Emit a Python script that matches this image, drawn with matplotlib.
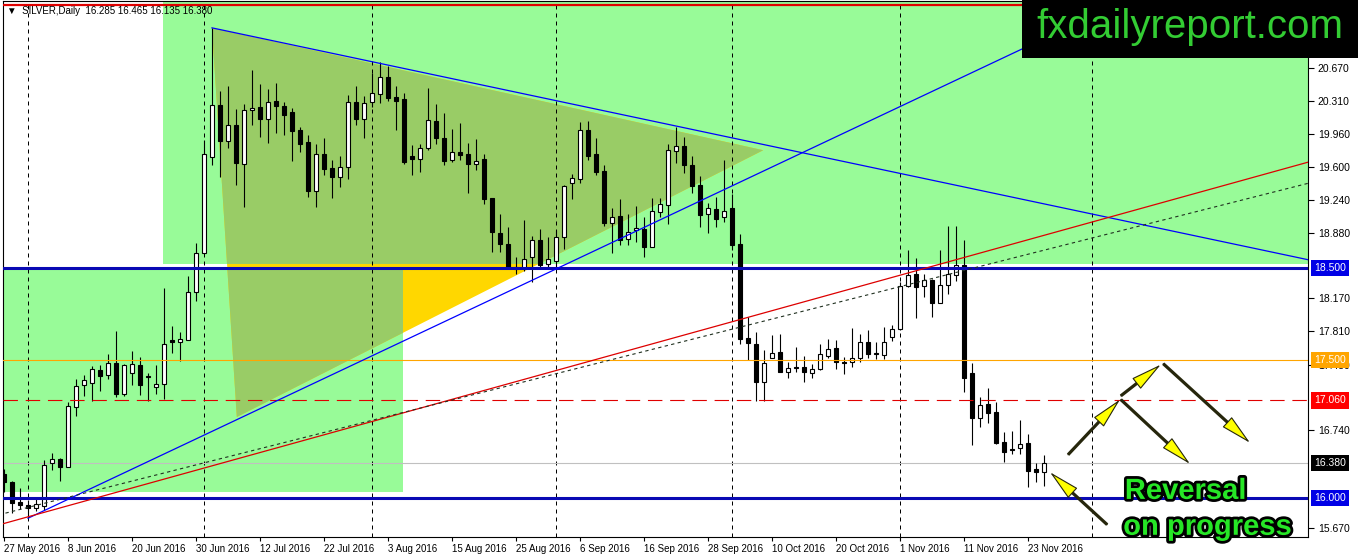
import numpy as np
import matplotlib
matplotlib.use('Agg')
import matplotlib.pyplot as plt
from matplotlib.patches import Rectangle, Polygon, FancyArrowPatch
import matplotlib.patheffects as pe

plt.rcParams['font.family'] = ['Liberation Sans', 'DejaVu Sans']

# daily SILVER candles, 27 May 2016 .. 25 Nov 2016 (bar index 0..130)
opens = [16.26, 16.17, 15.96, 15.92, 15.89, 15.91, 16.38, 16.42, 16.34, 16.99,
         17.23, 17.25, 17.39, 17.34, 17.47, 17.13, 17.36, 17.45, 17.33, 17.21,
         17.24, 17.72, 17.70, 17.72, 18.24, 18.66, 19.71, 20.27, 19.88, 20.05,
         19.63, 20.22, 20.25, 20.12, 20.32, 20.26, 20.20, 20.00, 19.87, 19.34,
         19.74, 19.59, 19.49, 19.60, 20.30, 20.12, 20.30, 20.39, 20.58, 20.36,
         20.34, 19.72, 19.68, 19.80, 20.10, 19.91, 19.67, 19.76, 19.74, 19.63,
         19.68, 19.26, 18.88, 18.76, 18.51, 18.50, 18.62, 18.80, 18.54, 18.58,
         18.84, 19.42, 19.47, 20.00, 19.74, 19.55, 18.99, 19.07, 18.82, 18.91,
         18.92, 18.73, 19.11, 19.18, 19.77, 19.83, 19.62, 19.40, 19.09, 19.14,
         19.05, 19.15, 18.76, 17.74, 17.67, 17.26, 17.52, 17.59, 17.37, 17.42,
         17.42, 17.36, 17.40, 17.54, 17.63, 17.48, 17.48, 17.52, 17.70, 17.57,
         17.55, 17.75, 17.84, 18.30, 18.43, 18.30, 18.37, 18.12, 18.32, 18.42,
         18.53, 17.36, 16.87, 17.02, 16.93, 16.61, 16.53, 16.54, 16.60, 16.32,
         16.285]
highs = [16.32, 16.19, 16.11, 15.98, 16.00, 16.41, 16.49, 16.43, 17.04, 17.29,
         17.34, 17.43, 17.45, 17.57, 17.82, 17.46, 17.60, 17.53, 17.36, 17.45,
         18.28, 17.87, 17.80, 18.41, 18.77, 19.89, 21.11, 20.42, 20.48, 20.23,
         20.28, 20.65, 20.50, 20.45, 20.51, 20.30, 20.24, 20.03, 19.95, 19.85,
         19.91, 19.67, 19.72, 20.38, 20.48, 20.37, 20.62, 20.74, 20.70, 20.48,
         20.40, 19.84, 19.85, 20.46, 20.28, 20.18, 20.01, 20.08, 19.86, 19.90,
         19.74, 19.26, 19.09, 18.95, 18.62, 19.02, 18.85, 18.92, 18.84, 18.91,
         19.40, 19.52, 20.09, 20.10, 19.91, 19.62, 19.15, 19.25, 19.09, 19.17,
         19.05, 19.26, 19.26, 19.85, 20.03, 19.92, 19.72, 19.50, 19.21, 19.27,
         19.67, 19.30, 18.87, 17.97, 17.80, 17.61, 17.77, 17.78, 17.48, 17.64,
         17.54, 17.46, 17.67, 17.73, 17.72, 17.53, 17.85, 17.78, 17.83, 17.70,
         17.86, 17.88, 18.35, 18.70, 18.61, 18.43, 18.38, 18.70, 18.96, 18.96,
         18.80, 17.47, 17.10, 17.20, 17.04, 16.72, 16.73, 16.85, 16.70, 16.38,
         16.465]
lows = [16.07, 15.84, 15.88, 15.78, 15.86, 15.87, 16.30, 16.18, 16.34, 16.89,
        17.11, 17.05, 17.16, 17.29, 17.10, 17.11, 17.23, 17.12, 17.05, 17.13,
        17.08, 17.58, 17.49, 17.72, 18.14, 18.65, 19.62, 19.49, 19.80, 19.40,
        19.16, 20.05, 19.92, 19.86, 19.97, 19.95, 19.66, 19.76, 19.27, 19.16,
        19.51, 19.26, 19.38, 19.47, 20.05, 19.91, 20.25, 20.29, 20.32, 20.00,
        19.63, 19.51, 19.54, 19.78, 19.85, 19.62, 19.65, 19.67, 19.32, 19.57,
        19.20, 18.67, 18.67, 18.50, 18.43, 18.47, 18.35, 18.51, 18.51, 18.51,
        18.71, 19.25, 19.42, 19.67, 19.51, 18.96, 18.66, 18.75, 18.75, 18.78,
        18.62, 18.73, 19.05, 18.98, 19.64, 19.53, 19.32, 18.95, 18.88, 18.95,
        19.00, 18.70, 17.67, 17.50, 17.05, 17.05, 17.52, 17.37, 17.30, 17.37,
        17.26, 17.30, 17.39, 17.52, 17.40, 17.35, 17.42, 17.48, 17.52, 17.51,
        17.51, 17.71, 17.83, 18.29, 17.96, 18.18, 17.97, 18.12, 18.22, 18.36,
        17.15, 16.58, 16.77, 16.82, 16.59, 16.39, 16.48, 16.48, 16.12, 16.17,
        16.135]
closes = [16.17, 15.95, 15.92, 15.89, 15.93, 16.36, 16.42, 16.34, 17.00, 17.22,
          17.28, 17.40, 17.33, 17.47, 17.13, 17.45, 17.46, 17.23, 17.31, 17.24,
          17.67, 17.70, 17.73, 18.24, 18.66, 19.74, 20.27, 19.88, 20.05, 19.64,
          20.22, 20.24, 20.12, 20.30, 20.26, 20.16, 19.99, 19.85, 19.34, 19.74,
          19.58, 19.49, 19.60, 20.30, 20.12, 20.29, 20.40, 20.58, 20.35, 20.32,
          19.65, 19.68, 19.80, 20.11, 19.91, 19.66, 19.76, 19.73, 19.63, 19.66,
          19.25, 18.89, 18.76, 18.50, 18.49, 18.60, 18.80, 18.53, 18.60, 18.84,
          19.39, 19.48, 20.00, 19.72, 19.54, 18.99, 19.05, 18.80, 18.89, 18.93,
          18.73, 19.12, 19.20, 19.78, 19.83, 19.62, 19.39, 19.08, 19.15, 19.03,
          19.12, 18.75, 17.73, 17.68, 17.26, 17.47, 17.58, 17.37, 17.41, 17.41,
          17.37, 17.40, 17.57, 17.62, 17.48, 17.47, 17.52, 17.70, 17.57, 17.56,
          17.70, 17.84, 18.30, 18.42, 18.29, 18.37, 18.12, 18.32, 18.43, 18.53,
          17.30, 16.87, 17.01, 16.92, 16.60, 16.50, 16.52, 16.59, 16.29, 16.28,
          16.38]

date_ticks = [0, 8, 16, 24, 32, 40, 48, 56, 64, 72, 80, 88, 96, 104, 112, 120, 128]
date_labels = ['27 May 2016', '8 Jun 2016', '20 Jun 2016', '30 Jun 2016', '12 Jul 2016',
               '22 Jul 2016', '3 Aug 2016', '15 Aug 2016', '25 Aug 2016', '6 Sep 2016',
               '16 Sep 2016', '28 Sep 2016', '10 Oct 2016', '20 Oct 2016', '1 Nov 2016',
               '11 Nov 2016', '23 Nov 2016']
month_starts = [3, 25, 46, 69, 91, 112, 136]
# scale ticks that are not hidden behind the price boxes
price_ticks = [15.67, 16.74, 17.45, 17.81, 18.17, 18.88, 19.24, 19.60, 19.96, 20.31, 20.67]

# horizontal levels
support_levels = [18.50, 16.00]
orange_level = 17.50
dashed_level = 17.06
bid_level = 16.38
top_level = 21.36

# zones (bar index, price)
upper_zone = [19.9, 18.54, 175.0, 22.0]
lower_zone = [-2.0, 16.06, 49.9, 18.48]
triangle = [(26.0, 21.11), (29.1, 16.88), (94.9, 19.78)]

# trendlines: two anchor points each (bar index, price)
down_line = [(26.0, 21.11), (163.0, 18.59)]
up_line = [(3.0, 15.78), (127.0, 20.87)]
red_line = [(-0.125, 15.72), (163.0, 19.65)]
dot_line = [(6.75, 15.98), (163.0, 19.42)]

# projected path arrows: tail -> tip
arrow_tails = [(137.9, 15.71), (133.0, 16.47), (139.6, 17.11), (139.6, 17.07), (144.9, 17.46)]
arrow_tips = [(130.75, 16.28), (139.5, 17.07), (144.6, 17.45), (148.25, 16.37), (155.75, 16.60)]

W, H = 1358, 554
fig = plt.figure(figsize=(W / 100, H / 100), dpi=100)
ax = fig.add_axes([3 / W, 17 / H, 1305 / W, 536 / H])
ax.set_xlim(-0.125, 163.0)
ax.set_ylim(15.576, 21.402)

# zones and triangle
r_up = Rectangle((upper_zone[0], upper_zone[1]), upper_zone[2] - upper_zone[0],
                 upper_zone[3] - upper_zone[1], facecolor='#98FB98', edgecolor='none', zorder=0.5)
r_low = Rectangle((lower_zone[0], lower_zone[1]), lower_zone[2] - lower_zone[0],
                  lower_zone[3] - lower_zone[1], facecolor='#98FB98', edgecolor='none', zorder=0.5)
ax.add_patch(r_up)
ax.add_patch(r_low)
ax.add_patch(Polygon(triangle, closed=True, facecolor='#FFD700', edgecolor='none', zorder=0.6))
for r in (r_up, r_low):
    t = Polygon(triangle, closed=True, facecolor='#99CC66', edgecolor='none', zorder=0.7)
    ax.add_patch(t)
    t.set_clip_path(r)

# month separators
for m in month_starts:
    ax.axvline(m, color='black', lw=0.72, ls=(0, (4, 4)), zorder=1)

# candles
o = np.array(opens)
h = np.array(highs)
l = np.array(lows)
c = np.array(closes)
idx = np.arange(len(o))
up = c >= o
ax.vlines(idx, l, h, color='black', lw=0.8, zorder=2)
bottoms = np.minimum(o, c)
heights = np.maximum(np.abs(c - o), 0.012)
ax.bar(idx[up], heights[up], bottom=bottoms[up], width=0.6, facecolor='white',
       edgecolor='black', lw=0.8, zorder=3)
ax.bar(idx[~up], heights[~up], bottom=bottoms[~up], width=0.6, facecolor='black',
       edgecolor='black', lw=0.8, zorder=3)

# horizontal lines
for lv in support_levels:
    ax.axhline(lv, color='#0A0AB4', lw=2.2, zorder=4)
ax.axhline(orange_level, color='#FFA500', lw=0.8, zorder=4)
ax.axhline(dashed_level, color='#E00000', lw=0.8, ls=(0, (13, 7)), zorder=4)
ax.axhline(bid_level, color='#C0C0C0', lw=0.8, zorder=1.5)
ax.axhline(top_level, color='#E00000', lw=1.6, zorder=4)


def extend(p, q, x_start, x_end):
    slope = (q[1] - p[1]) / (q[0] - p[0])
    return [x_start, x_end], [p[1] + slope * (x_start - p[0]), p[1] + slope * (x_end - p[0])]


xs, ys = extend(*down_line, down_line[0][0], 170)
ax.plot(xs, ys, color='#0000FF', lw=0.9, zorder=5)
xs, ys = extend(*up_line, up_line[0][0], 170)
ax.plot(xs, ys, color='#0000FF', lw=0.9, zorder=5)
xs, ys = extend(*red_line, -1, 170)
ax.plot(xs, ys, color='#DD0000', lw=0.9, zorder=5)
xs, ys = extend(*dot_line, -1, 170)
ax.plot(xs, ys, color='#203020', lw=0.8, ls=(0, (3, 3)), zorder=5)

# arrows
for tail, tip in zip(arrow_tails, arrow_tips):
    p0 = ax.transData.transform(tail)
    p1 = ax.transData.transform(tip)
    d = p1 - p0
    pb = p1 - d / np.hypot(*d) * 20
    xb, yb = ax.transData.inverted().transform(pb)
    ax.plot([tail[0], xb], [tail[1], yb], color='#26260C', lw=2.3,
            solid_capstyle='butt', zorder=8)
    ax.add_patch(FancyArrowPatch(tail, tip, arrowstyle='-|>,head_length=1.0,head_width=0.22',
                                 mutation_scale=20, lw=0.8, ec='#26260C', fc='#FFFF00',
                                 shrinkA=0, shrinkB=0, zorder=9))

# annotation text
ax.text(140.1, 15.99, 'Reversal', fontsize=21, weight='bold', color='#26E626',
        ha='left', va='baseline', zorder=12,
        path_effects=[pe.withStroke(linewidth=4, foreground='black')])
ax.text(139.9, 15.60, 'on progress', fontsize=21, weight='bold', color='#26E626',
        ha='left', va='baseline', zorder=12,
        path_effects=[pe.withStroke(linewidth=4, foreground='black')])

# axes styling
for s in ax.spines.values():
    s.set_color('black')
    s.set_linewidth(0.8)
ax.yaxis.tick_right()
ax.set_yticks(price_ticks)
ax.set_yticklabels(['%.3f' % p for p in price_ticks])
ax.tick_params(axis='y', direction='out', length=4, width=0.8, pad=3, labelsize=7.5)
ax.set_xticks(date_ticks)
ax.set_xticklabels(date_labels)
ax.tick_params(axis='x', direction='out', length=3, width=0.8, pad=2, labelsize=7)
for lab in ax.get_xticklabels():
    lab.set_horizontalalignment('left')

# price boxes on the right axis
box_specs = [(18.50, '18.500', '#0000E6'), (17.50, '17.500', '#FFA500'),
             (17.06, '17.060', '#FF0000'), (16.38, '16.380', '#000000'),
             (16.00, '16.000', '#0000E6')]
for price, txt, col in box_specs:
    ax.text(1.0045, price, txt, transform=ax.get_yaxis_transform(), fontsize=7.5,
            color='white', ha='left', va='center', zorder=20, clip_on=False,
            bbox=dict(boxstyle='square,pad=0.3', facecolor=col, edgecolor='none'))

# header
fig.text(7 / W, 1 - 11 / H, '\u25bc  SILVER,Daily  16.285 16.465 16.135 16.380',
         fontsize=7, color='black', ha='left', va='center')

# watermark
fig.patches.append(Rectangle((1022 / W, 1 - 58 / H), (W - 1022) / W, 58 / H,
                             transform=fig.transFigure, facecolor='black',
                             edgecolor='none', zorder=10))
fig.text(1190 / W, 1 - 38 / H, 'fxdailyreport.com', color='#33CC33', fontsize=29,
         ha='center', va='baseline', zorder=11)

fig.savefig('out.png', dpi=100)
